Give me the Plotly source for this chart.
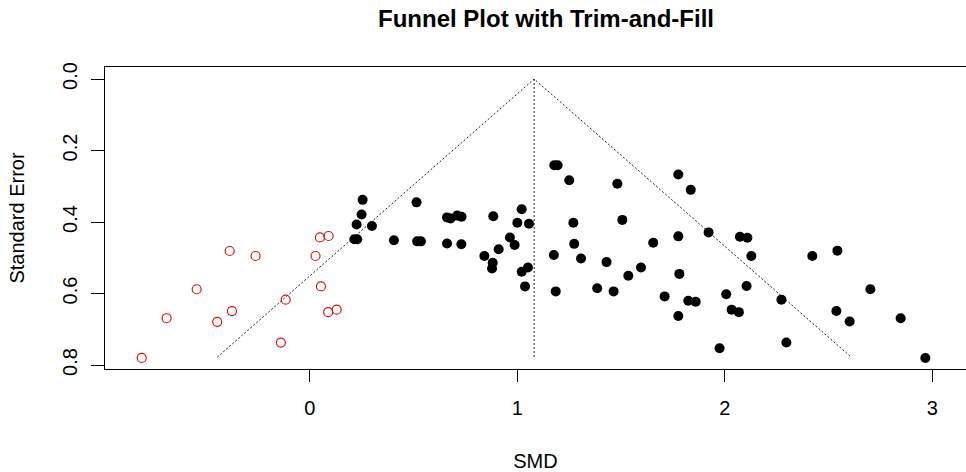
import plotly.graph_objects as go

# Observed studies (black filled)
obs_smd = [0.254, 0.249, 0.225, 0.299, 0.214, 0.228, 0.405, 0.514, 0.517, 0.535,
           0.661, 0.678, 0.710, 0.731, 0.661, 0.730, 0.884, 0.841, 0.881, 0.878,
           0.910, 0.964, 0.987, 1.021, 1.000, 1.056, 1.021, 1.051, 1.037, 1.178,
           1.194, 1.250, 1.176, 1.185, 1.270, 1.274, 1.307, 1.482, 1.506, 1.430,
           1.385, 1.464, 1.535, 1.776, 1.836, 1.922, 1.655, 1.776, 2.073, 2.109,
           2.128, 1.596, 1.781, 1.710, 1.824, 1.860, 1.776, 2.007, 2.105, 2.033,
           2.068, 1.975, 2.273, 2.297, 2.422, 2.543, 2.538, 2.602, 2.702, 2.848,
           2.967]
obs_se = [0.338, 0.379, 0.407, 0.411, 0.448, 0.448, 0.451, 0.345, 0.454, 0.454,
          0.387, 0.390, 0.382, 0.385, 0.460, 0.462, 0.384, 0.495, 0.514, 0.530,
          0.476, 0.443, 0.464, 0.364, 0.402, 0.405, 0.539, 0.527, 0.580, 0.241,
          0.241, 0.283, 0.492, 0.594, 0.402, 0.461, 0.502, 0.293, 0.394, 0.512,
          0.585, 0.594, 0.550, 0.267, 0.310, 0.429, 0.458, 0.440, 0.441, 0.444,
          0.495, 0.527, 0.545, 0.608, 0.620, 0.623, 0.663, 0.602, 0.579, 0.645,
          0.652, 0.753, 0.617, 0.737, 0.495, 0.480, 0.649, 0.678, 0.588, 0.669,
          0.780]

# Imputed (trim-and-fill) studies (red open)
fill_smd = [-0.811, -0.691, -0.546, -0.447, -0.387, -0.376, -0.262, -0.140,
            -0.117, 0.027, 0.048, 0.090, 0.053, 0.088, 0.129]
fill_se = [0.780, 0.669, 0.588, 0.679, 0.481, 0.649, 0.495, 0.737,
           0.617, 0.495, 0.443, 0.439, 0.580, 0.652, 0.645]

# Funnel (pseudo confidence region) and pooled estimate line
funnel_x = [-0.447, 1.081, 2.610]
funnel_y = [0.778, 0.0, 0.778]
center_x = [1.081, 1.081]
center_y = [0.0, 0.778]

x_ticks = [0, 1, 2, 3]
y_ticks = [0.0, 0.2, 0.4, 0.6, 0.8]
y_tick_text = ["0.0", "0.2", "0.4", "0.6", "0.8"]

FONT = "Liberation Sans, Arial, Helvetica, sans-serif"

fig = go.Figure()
fig.add_trace(go.Scatter(x=funnel_x, y=funnel_y, mode="lines",
                         line=dict(color="#222222", width=1, dash="2px,2px"),
                         hoverinfo="skip", showlegend=False))
fig.add_trace(go.Scatter(x=center_x, y=center_y, mode="lines",
                         line=dict(color="#222222", width=1, dash="2px,2px"),
                         hoverinfo="skip", showlegend=False))
fig.add_trace(go.Scatter(x=obs_smd, y=obs_se, mode="markers", name="Observed",
                         marker=dict(color="black", size=10, line=dict(width=0)),
                         showlegend=False))
fig.add_trace(go.Scatter(x=fill_smd, y=fill_se, mode="markers", name="Filled",
                         marker=dict(symbol="circle-open", color="#e01010", size=9,
                                     line=dict(width=1.2, color="#e01010")),
                         showlegend=False))

fig.update_layout(
    width=966, height=472,
    margin=dict(l=105, r=0, t=67, b=103),
    paper_bgcolor="white", plot_bgcolor="white",
    font=dict(family=FONT, color="black", size=20),
    title=dict(text="<b>Funnel Plot with Trim-and-Fill</b>",
               font=dict(family=FONT, size=24, color="black"),
               x=546 / 966, xref="container", xanchor="center",
               y=1 - 19 / 472, yref="container", yanchor="middle"),
    xaxis=dict(range=[-0.988, 3.163], tickvals=x_ticks, ticks="outside",
               ticklen=12, tickcolor="black", tickwidth=1,
               showline=True, linecolor="black", linewidth=1, mirror=True,
               showgrid=False, zeroline=False, ticklabelstandoff=9,
               tickfont=dict(size=20),
               title=dict(text="SMD", font=dict(size=20), standoff=35)),
    yaxis=dict(range=[0.811, -0.0336], tickvals=y_ticks, ticktext=y_tick_text,
               tickangle=-90, ticks="outside", ticklen=13, tickcolor="black",
               tickwidth=1, showline=True, linecolor="black", linewidth=1,
               showgrid=False, zeroline=False, ticklabelstandoff=6,
               tickfont=dict(size=20),
               title=dict(text="Standard Error", font=dict(size=20), standoff=29)),
)

fig.write_html("out.html")
